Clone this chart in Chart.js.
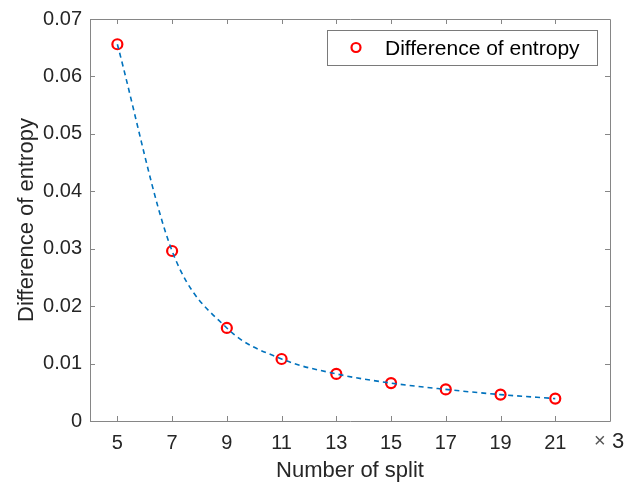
<!DOCTYPE html>
<html>
<head>
<meta charset="utf-8">
<script src="https://cdn.jsdelivr.net/npm/chart.js@4/dist/chart.umd.min.js"></script>
<style>
html,body{margin:0;padding:0;background:#fff;}
#wrap{width:640px;height:482px;position:relative;}
</style>
</head>
<body>
<div id="wrap"><canvas id="c" width="640" height="482"></canvas></div>
<script>
const splits = [5, 7, 9, 11, 13, 15, 17, 19, 21];
const entropyDiff = [0.0656, 0.0296, 0.0162, 0.0108, 0.0082, 0.0066, 0.0055, 0.0046, 0.0039];
const xTicks = [5, 7, 9, 11, 13, 15, 17, 19, 21];
const yTicks = [0, 0.01, 0.02, 0.03, 0.04, 0.05, 0.06, 0.07];
const yTickLabels = ['0', '0.01', '0.02', '0.03', '0.04', '0.05', '0.06', '0.07'];
const seriesLabel = 'Difference of entropy';
const xTitle = 'Number of split';
const yTitle = 'Difference of entropy';
const xMultiplier = '3';

const FONT = 'Liberation Sans, Arial, Helvetica, sans-serif';
const AXIS_COLOR = '#868686';
const TEXT_COLOR = '#262626';

const pts = splits.map((x, i) => ({x: x, y: entropyDiff[i]}));

const framePlugin = {
  id: 'frame',
  afterDatasetsDraw(chart) {
    const ctx = chart.ctx;
    const a = chart.chartArea;
    const xs = chart.scales.x, ys = chart.scales.y;
    ctx.save();
    ctx.strokeStyle = AXIS_COLOR;
    ctx.lineWidth = 1;
    ctx.beginPath();
    ctx.rect(Math.round(a.left) + 0.5, Math.round(a.top) + 0.5, Math.round(a.right - a.left), Math.round(a.bottom - a.top));
    ctx.stroke();
    const tl = 5;
    ctx.beginPath();
    xTicks.forEach(v => {
      const px = Math.round(xs.getPixelForValue(v)) + 0.5;
      ctx.moveTo(px, a.bottom); ctx.lineTo(px, a.bottom - tl);
      ctx.moveTo(px, a.top); ctx.lineTo(px, a.top + tl);
    });
    yTicks.forEach(v => {
      const py = Math.round(ys.getPixelForValue(v)) + 0.5;
      ctx.moveTo(a.left, py); ctx.lineTo(a.left + tl, py);
      ctx.moveTo(a.right, py); ctx.lineTo(a.right - tl, py);
    });
    ctx.stroke();

    // x multiplier
    ctx.textBaseline = 'alphabetic';
    ctx.textAlign = 'left';
    ctx.fillStyle = '#555555';
    ctx.font = '20px ' + FONT;
    ctx.fillText('\u00d7', 594, 447);
    ctx.fillStyle = TEXT_COLOR;
    ctx.font = '22px ' + FONT;
    ctx.fillText(xMultiplier, 612, 448);

    // legend
    const lx = 327, ly = 30, lw = 270, lh = 35;
    ctx.fillStyle = '#ffffff';
    ctx.fillRect(lx, ly, lw, lh);
    ctx.lineWidth = 1;
    ctx.strokeStyle = '#7a7a7a';
    ctx.strokeRect(lx + 0.5, ly + 0.5, lw, lh);
    ctx.beginPath();
    ctx.strokeStyle = '#ff0000';
    ctx.lineWidth = 2.2;
    ctx.arc(356, 47.5, 4.5, 0, Math.PI * 2);
    ctx.stroke();
    ctx.fillStyle = '#000000';
    ctx.font = '21px ' + FONT;
    ctx.fillText(chart.data.datasets[1].label, 385, 55);
    ctx.restore();
  }
};

new Chart(document.getElementById('c'), {
  type: 'scatter',
  data: {
    datasets: [
      {
        label: 'curve',
        data: pts,
        showLine: true,
        borderColor: '#0072BD',
        borderWidth: 1.6,
        borderDash: [5, 4],
        cubicInterpolationMode: 'monotone',
        pointRadius: 0,
        fill: false
      },
      {
        label: seriesLabel,
        data: pts,
        showLine: false,
        pointRadius: 5,
        pointBorderWidth: 2.2,
        pointBorderColor: '#ff0000',
        pointBackgroundColor: 'rgba(0,0,0,0)',
        pointStyle: 'circle'
      }
    ]
  },
  options: {
    responsive: false,
    animation: false,
    devicePixelRatio: 1,
    layout: {padding: {left: 0, right: 30, top: 19, bottom: 0}},
    plugins: {legend: {display: false}, tooltip: {enabled: false}},
    scales: {
      x: {
        type: 'linear',
        min: 4, max: 23,
        grid: {display: false},
        border: {display: false},
        afterBuildTicks: s => { s.ticks = xTicks.map(v => ({value: v})); },
        afterFit: s => { s.height = 61; },
        ticks: {
          padding: 4,
          color: TEXT_COLOR,
          font: {family: FONT, size: 20, lineHeight: 1},
          callback: v => String(v)
        },
        title: {
          display: true, text: xTitle, color: TEXT_COLOR,
          font: {family: FONT, size: 22, lineHeight: 1},
          padding: {top: 0, bottom: 0}
        }
      },
      y: {
        type: 'linear',
        min: 0, max: 0.07,
        grid: {display: false},
        border: {display: false},
        afterBuildTicks: s => { s.ticks = yTicks.map(v => ({value: v})); },
        afterFit: s => { s.width = 90; },
        ticks: {
          padding: 0,
          color: TEXT_COLOR,
          font: {family: FONT, size: 20, lineHeight: 1},
          callback: (v) => { const i = yTicks.findIndex(t => Math.abs(t - v) < 1e-9); return i >= 0 ? yTickLabels[i] : ''; }
        },
        title: {
          display: true, text: yTitle, color: TEXT_COLOR,
          font: {family: FONT, size: 22, lineHeight: 1},
          padding: {top: 16, bottom: 0}
        }
      }
    }
  },
  plugins: [framePlugin]
});
</script>
</body>
</html>
